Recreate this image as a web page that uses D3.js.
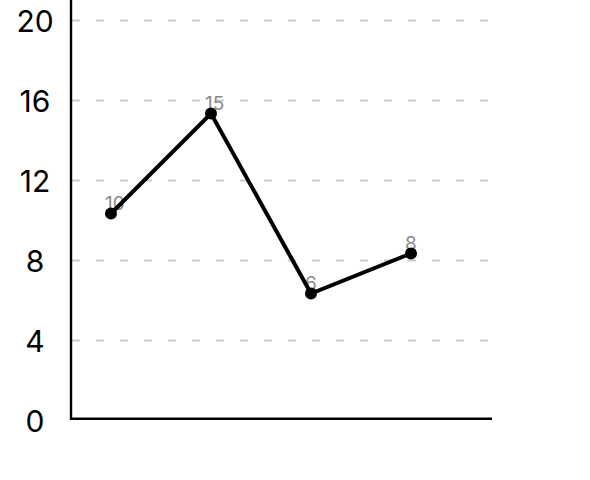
<!DOCTYPE html>
<html>
<head>
<meta charset="utf-8">
<script src="https://cdn.jsdelivr.net/npm/d3@7"></script>
<style>
  body { margin: 0; background: #fff; }
  svg { display: block; }
</style>
</head>
<body>
<svg class="chart"></svg>
<script>
// chart data
const categories = ['A', 'B', 'C', 'D'];
const values = [10, 15, 6, 8];
const yTicks = [0, 4, 8, 12, 16, 20];

const width = 590,
    height = 480;

const svg = d3.select('.chart')
    .attr('width', width)
    .attr('height', height);

// scales: x by category index, y by value
const x = d3.scaleLinear().domain([-0.4, 3.8]).range([71, 491]);
const y = d3.scaleLinear().domain([0, 20]).range([420.5, 20.5]);

// dashed grid
svg.append('g')
    .selectAll('line')
    .data(yTicks.filter(t => t > 0))
    .enter().append('line')
    .attr('x1', 72)
    .attr('x2', 491)
    .attr('y1', d => y(d))
    .attr('y2', d => y(d))
    .attr('stroke', '#cccccc')
    .attr('stroke-width', 2)
    .attr('stroke-dasharray', '8,16');

// y axis labels
const yAxis = svg.append('g')
    .attr('transform', 'translate(71,0)')
    .call(d3.axisLeft(y).tickValues(yTicks).tickSize(0).tickPadding(0));
yAxis.select('.domain').remove();
yAxis.selectAll('text')
    .attr('x', -36)
    .attr('dy', '0.36em')
    .attr('text-anchor', 'middle')
    .attr('fill', '#000')
    .style('font-family', 'Inter, "Liberation Sans", sans-serif')
    .style('font-size', '30px');

// axis lines
svg.append('line')
    .attr('x1', 71).attr('x2', 71)
    .attr('y1', 0).attr('y2', 420)
    .attr('stroke', '#000').attr('stroke-width', 2.4);
svg.append('line')
    .attr('x1', 70).attr('x2', 492)
    .attr('y1', y(0) - 1.8).attr('y2', y(0) - 1.8)
    .attr('stroke', '#000').attr('stroke-width', 2.6);

// series (drawn slightly raised, as in the picture)
const data = categories.map((c, i) => ({ cat: c, i: i, value: values[i] }));
const series = svg.append('g').attr('transform', 'translate(0,-7)');

series.selectAll('text')
    .data(data)
    .enter().append('text')
    .attr('x', d => x(d.i) - 6)
    .attr('y', d => y(d.value) - 4)
    .attr('fill', '#8a8a8a')
    .style('font-family', 'Inter, "Liberation Sans", sans-serif')
    .style('font-size', '19px')
    .text(d => d.value);

const line = d3.line()
    .x(d => x(d.i))
    .y(d => y(d.value));

series.append('path')
    .datum(data)
    .attr('d', line)
    .attr('fill', 'none')
    .attr('stroke', '#000')
    .attr('stroke-width', 4);

series.selectAll('circle')
    .data(data)
    .enter().append('circle')
    .attr('cx', d => x(d.i))
    .attr('cy', d => y(d.value))
    .attr('r', 6)
    .attr('fill', '#000');
</script>
</body>
</html>
